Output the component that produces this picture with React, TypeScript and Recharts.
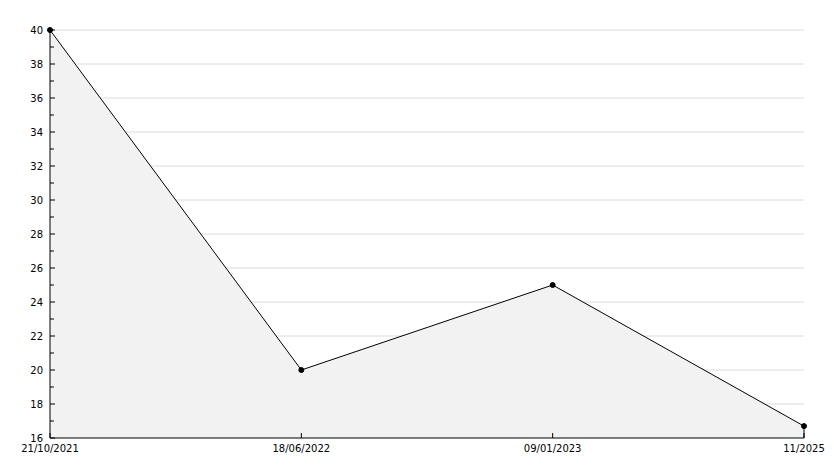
import React from "react";
import { AreaChart, Area, CartesianGrid, XAxis, YAxis, ReferenceLine } from "recharts";

const dates = ["21/10/2021", "18/06/2022", "09/01/2023", "11/2025"];
const values = [40, 20, 25, 16.7];
const yTicks = [16, 17, 18, 19, 20, 21, 22, 23, 24, 25, 26, 27, 28, 29, 30, 31, 32, 33, 34, 35, 36, 37, 38, 39, 40];
const gridValues = [18, 20, 22, 24, 26, 28, 30, 32, 34, 36, 38, 40];

const data = dates.map((d, i) => ({ date: d, value: values[i] }));
const font = "'DejaVu Sans', sans-serif";

function YTick(props: any) {
  const { x, y, payload } = props;
  const major = payload.value % 2 === 0;
  return (
    <g>
      <line x1={x} x2={x + (major ? 5 : 4)} y1={y} y2={y} stroke="#000" />
      {major && (
        <text x={x - 7} y={y} dy={4} textAnchor="end" fontSize={10} fontFamily={font} fill="#000">
          {payload.value}
        </text>
      )}
    </g>
  );
}

function XTick(props: any) {
  const { x, y, payload } = props;
  return (
    <g>
      <line x1={x} x2={x} y1={y} y2={y - 5} stroke="#000" />
      <text x={x} y={y} dy={14} textAnchor="middle" fontSize={10} fontFamily={font} fill="#000">
        {payload.value}
      </text>
    </g>
  );
}

export default function App() {
  return (
    <div style={{ position: "absolute", left: 0, top: 0, background: "#fff" }}>
      <AreaChart width={834} height={468} data={data} margin={{ top: 30, right: 30, left: 0, bottom: 0 }}>
        <CartesianGrid vertical={false} horizontalValues={gridValues} stroke="#dcdcdc" />
        <XAxis
          dataKey="date"
          height={30}
          axisLine={{ stroke: "#000" }}
          tickLine={false}
          tickSize={0}
          tickMargin={0}
          tick={<XTick />}
          interval={0}
          padding={{ left: 0, right: 0 }}
        />
        <YAxis
          width={50}
          domain={[16, 40]}
          ticks={yTicks}
          interval={0}
          axisLine={{ stroke: "#000" }}
          tickLine={false}
          tickSize={0}
          tickMargin={0}
          tick={<YTick />}
        />
        <Area
          type="linear"
          dataKey="value"
          stroke="#000"
          strokeWidth={1}
          fill="#f2f2f2"
          fillOpacity={1}
          dot={{ r: 2.5, fill: "#000", stroke: "#000", strokeWidth: 1 }}
          activeDot={false}
          isAnimationActive={false}
        />
        <ReferenceLine
          segment={[
            { x: dates[dates.length - 1], y: 16 },
            { x: dates[dates.length - 1], y: values[values.length - 1] },
          ]}
          stroke="#000"
        />
      </AreaChart>
    </div>
  );
}
